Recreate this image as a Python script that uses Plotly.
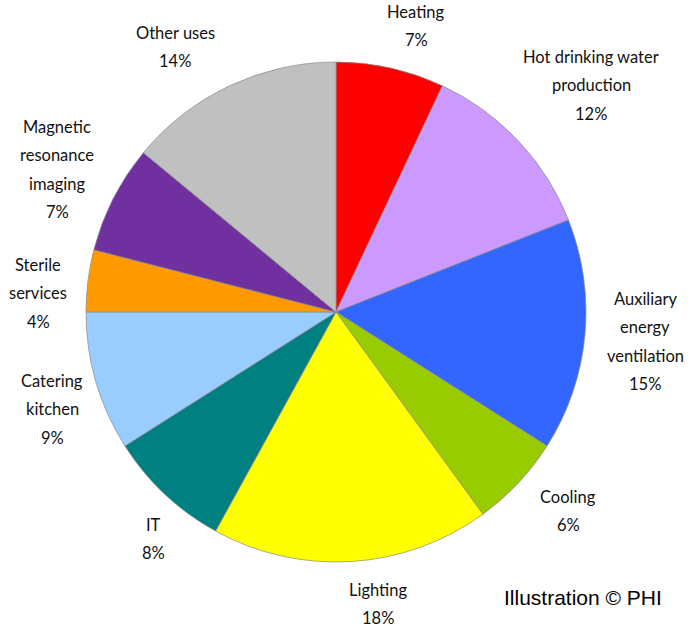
import plotly.graph_objects as go

categories = ["Heating", "Hot drinking water production", "Auxiliary energy ventilation",
              "Cooling", "Lighting", "IT", "Catering kitchen", "Sterile services",
              "Magnetic resonance imaging", "Other uses"]
values = [7, 12, 15, 6, 18, 8, 9, 4, 7, 14]
label_lines = [["Heating"], ["Hot drinking water", "production"], ["Auxiliary", "energy", "ventilation"],
               ["Cooling"], ["Lighting"], ["IT"], ["Catering", "kitchen"], ["Sterile", "services"],
               ["Magnetic", "resonance", "imaging"], ["Other uses"]]
colors = ["#ff0000", "#cc99ff", "#3366ff", "#99cc00", "#ffff00", "#008080",
          "#99ccff", "#ff9900", "#7030a0", "#c0c0c0"]

# label block anchor (center x, first line y) in pixels of the target picture
label_pos = [(416, 12), (591, 57), (645, 299), (568, 497), (378, 590), (153, 525),
             (52, 381), (38, 265), (57, 127), (175, 33)]
line_gap = 28.3

W, H = 700, 630
cx, cy, r = 336, 312, 250

fig = go.Figure(go.Pie(
    labels=categories, values=values, sort=False, direction="clockwise", rotation=0,
    marker=dict(colors=colors, line=dict(color="#8a8a8a", width=0.7)),
    textinfo="none", hoverinfo="label+percent", showlegend=False,
    domain=dict(x=[(cx - r) / W, (cx + r) / W], y=[(H - cy - r) / H, (H - cy + r) / H]),
))

total = sum(values)
annotations = []
for lines, v, (px, py) in zip(label_lines, values, label_pos):
    all_lines = lines + [f"{round(100 * v / total)}%"]
    for i, t in enumerate(all_lines):
        annotations.append(dict(
            x=px / W, y=1 - (py + i * line_gap) / H, xref="paper", yref="paper",
            text=t, showarrow=False, xanchor="center", yanchor="middle",
            font=dict(family="Lato", size=16.5, color="#111111")))

annotations.append(dict(x=583 / W, y=1 - 597 / H, xref="paper", yref="paper",
                        text="Illustration © PHI", showarrow=False, xanchor="center",
                        yanchor="middle",
                        font=dict(family="Liberation Sans", size=21, color="#000000")))

fig.update_layout(width=W, height=H, margin=dict(l=0, r=0, t=0, b=0),
                  paper_bgcolor="white", plot_bgcolor="white", annotations=annotations)
fig.write_html("out.html", config={"displayModeBar": False},
               post_script="document.body.style.margin='0';")
